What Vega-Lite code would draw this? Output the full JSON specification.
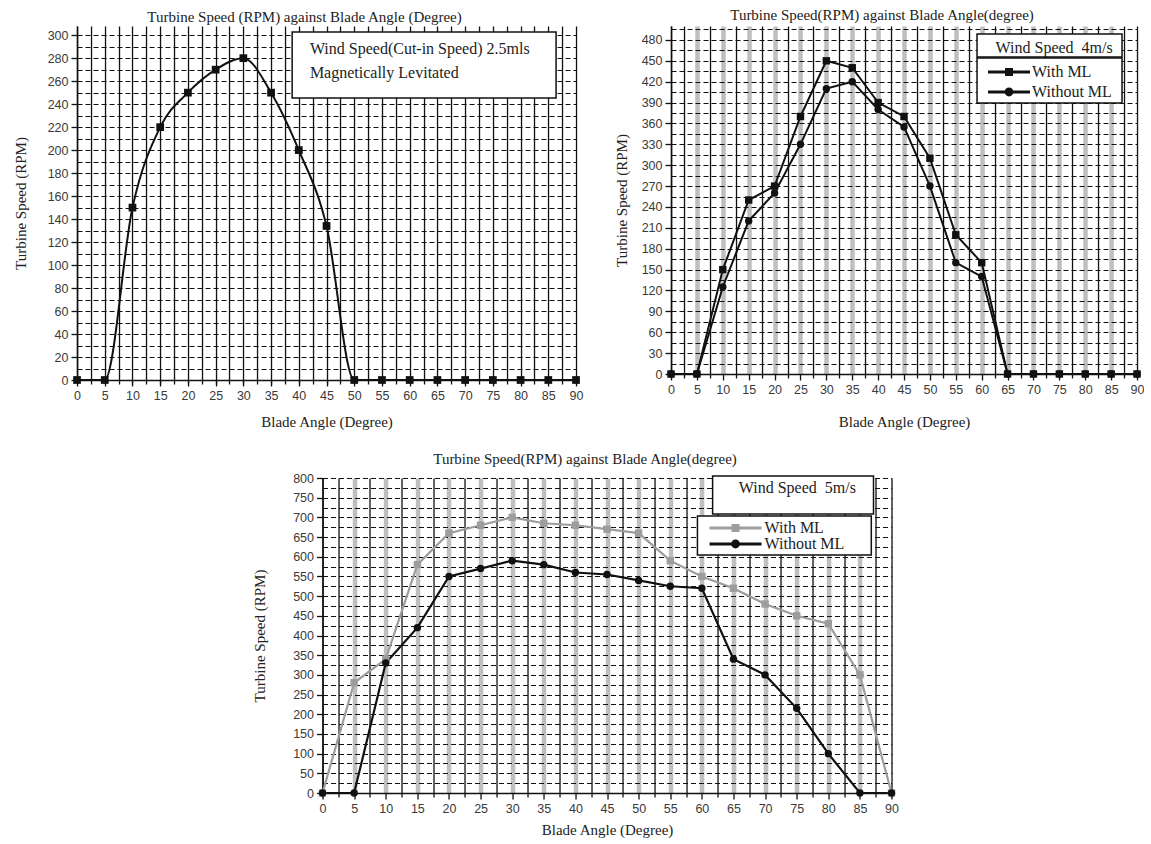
{
  "$schema": "https://vega.github.io/schema/vega-lite/v6.json",
  "padding": {"left": 13, "top": 7, "right": 0, "bottom": 0},
  "background": "white",
  "datasets": {
    "p1": [
      {"angle": 0, "rpm": 0}, {"angle": 5, "rpm": 0}, {"angle": 10, "rpm": 150}, {"angle": 15, "rpm": 220},
      {"angle": 20, "rpm": 250}, {"angle": 25, "rpm": 270}, {"angle": 30, "rpm": 280}, {"angle": 35, "rpm": 250},
      {"angle": 40, "rpm": 200}, {"angle": 45, "rpm": 134}, {"angle": 50, "rpm": 0}, {"angle": 55, "rpm": 0},
      {"angle": 60, "rpm": 0}, {"angle": 65, "rpm": 0}, {"angle": 70, "rpm": 0}, {"angle": 75, "rpm": 0},
      {"angle": 80, "rpm": 0}, {"angle": 85, "rpm": 0}, {"angle": 90, "rpm": 0}
    ],
    "p2": [
      {"series": "With ML", "angle": 0, "rpm": 0}, {"series": "With ML", "angle": 5, "rpm": 0},
      {"series": "With ML", "angle": 10, "rpm": 150}, {"series": "With ML", "angle": 15, "rpm": 250},
      {"series": "With ML", "angle": 20, "rpm": 270}, {"series": "With ML", "angle": 25, "rpm": 370},
      {"series": "With ML", "angle": 30, "rpm": 450}, {"series": "With ML", "angle": 35, "rpm": 440},
      {"series": "With ML", "angle": 40, "rpm": 390}, {"series": "With ML", "angle": 45, "rpm": 370},
      {"series": "With ML", "angle": 50, "rpm": 310}, {"series": "With ML", "angle": 55, "rpm": 200},
      {"series": "With ML", "angle": 60, "rpm": 160}, {"series": "With ML", "angle": 65, "rpm": 0},
      {"series": "With ML", "angle": 70, "rpm": 0}, {"series": "With ML", "angle": 75, "rpm": 0},
      {"series": "With ML", "angle": 80, "rpm": 0}, {"series": "With ML", "angle": 85, "rpm": 0},
      {"series": "With ML", "angle": 90, "rpm": 0},
      {"series": "Without ML", "angle": 0, "rpm": 0}, {"series": "Without ML", "angle": 5, "rpm": 0},
      {"series": "Without ML", "angle": 10, "rpm": 125}, {"series": "Without ML", "angle": 15, "rpm": 220},
      {"series": "Without ML", "angle": 20, "rpm": 260}, {"series": "Without ML", "angle": 25, "rpm": 330},
      {"series": "Without ML", "angle": 30, "rpm": 410}, {"series": "Without ML", "angle": 35, "rpm": 420},
      {"series": "Without ML", "angle": 40, "rpm": 380}, {"series": "Without ML", "angle": 45, "rpm": 355},
      {"series": "Without ML", "angle": 50, "rpm": 270}, {"series": "Without ML", "angle": 55, "rpm": 160},
      {"series": "Without ML", "angle": 60, "rpm": 140}, {"series": "Without ML", "angle": 65, "rpm": 0},
      {"series": "Without ML", "angle": 70, "rpm": 0}, {"series": "Without ML", "angle": 75, "rpm": 0},
      {"series": "Without ML", "angle": 80, "rpm": 0}, {"series": "Without ML", "angle": 85, "rpm": 0},
      {"series": "Without ML", "angle": 90, "rpm": 0}
    ],
    "p3": [
      {"series": "With ML", "angle": 0, "rpm": 0}, {"series": "With ML", "angle": 5, "rpm": 280},
      {"series": "With ML", "angle": 10, "rpm": 340}, {"series": "With ML", "angle": 15, "rpm": 580},
      {"series": "With ML", "angle": 20, "rpm": 660}, {"series": "With ML", "angle": 25, "rpm": 680},
      {"series": "With ML", "angle": 30, "rpm": 700}, {"series": "With ML", "angle": 35, "rpm": 685},
      {"series": "With ML", "angle": 40, "rpm": 680}, {"series": "With ML", "angle": 45, "rpm": 670},
      {"series": "With ML", "angle": 50, "rpm": 660}, {"series": "With ML", "angle": 55, "rpm": 590},
      {"series": "With ML", "angle": 60, "rpm": 550}, {"series": "With ML", "angle": 65, "rpm": 520},
      {"series": "With ML", "angle": 70, "rpm": 480}, {"series": "With ML", "angle": 75, "rpm": 450},
      {"series": "With ML", "angle": 80, "rpm": 430}, {"series": "With ML", "angle": 85, "rpm": 300},
      {"series": "With ML", "angle": 90, "rpm": 0},
      {"series": "Without ML", "angle": 0, "rpm": 0}, {"series": "Without ML", "angle": 5, "rpm": 0},
      {"series": "Without ML", "angle": 10, "rpm": 330}, {"series": "Without ML", "angle": 15, "rpm": 420},
      {"series": "Without ML", "angle": 20, "rpm": 550}, {"series": "Without ML", "angle": 25, "rpm": 570},
      {"series": "Without ML", "angle": 30, "rpm": 590}, {"series": "Without ML", "angle": 35, "rpm": 580},
      {"series": "Without ML", "angle": 40, "rpm": 560}, {"series": "Without ML", "angle": 45, "rpm": 555},
      {"series": "Without ML", "angle": 50, "rpm": 540}, {"series": "Without ML", "angle": 55, "rpm": 525},
      {"series": "Without ML", "angle": 60, "rpm": 520}, {"series": "Without ML", "angle": 65, "rpm": 340},
      {"series": "Without ML", "angle": 70, "rpm": 300}, {"series": "Without ML", "angle": 75, "rpm": 215},
      {"series": "Without ML", "angle": 80, "rpm": 100}, {"series": "Without ML", "angle": 85, "rpm": 0},
      {"series": "Without ML", "angle": 90, "rpm": 0}
    ]
  },
  "spacing": 21,
  "center": true,
  "resolve": {"scale": {"x": "independent", "y": "independent", "color": "independent", "shape": "independent", "fill": "independent"}},
  "vconcat": [
    {
      "spacing": 31,
      "resolve": {"scale": {"x": "independent", "y": "independent", "color": "independent", "shape": "independent", "fill": "independent"}},
      "hconcat": [
        {
          "width": 499,
          "height": 354,
          "title": {"text": "Turbine Speed (RPM) against Blade Angle (Degree)", "offset": 1, "dx": -22},
          "data": {"name": "p1"},
          "resolve": {"axis": {"x": "independent", "y": "independent"}},
          "layer": [
            {
              "mark": {"type": "line", "color": "#111", "strokeWidth": 2, "interpolate": "monotone"},
              "encoding": {
                "x": {"field": "angle", "type": "quantitative", "scale": {"domain": [0, 90], "nice": false, "zero": false},
                  "axis": {"orient": "bottom", "values": [0,2.5,5,7.5,10,12.5,15,17.5,20,22.5,25,27.5,30,32.5,35,37.5,40,42.5,45,47.5,50,52.5,55,57.5,60,62.5,65,67.5,70,72.5,75,77.5,80,82.5,85,87.5,90],
                    "grid": true, "gridColor": "#111", "gridWidth": 1.3, "labels": false, "ticks": true, "tickSize": 4, "domain": false, "title": null}},
                "y": {"field": "rpm", "type": "quantitative", "scale": {"domain": [0, 308], "nice": false},
                  "axis": {"orient": "left", "values": [10,20,30,40,50,60,70,80,90,100,110,120,130,140,150,160,170,180,190,200,210,220,230,240,250,260,270,280,290,300],
                    "grid": true, "gridColor": "#111", "gridDash": [5, 3], "gridWidth": 1.2, "labels": false, "ticks": false, "domain": false, "title": null}}
              }
            },
            {
              "mark": {"type": "point", "shape": "square", "filled": true, "size": 60, "color": "#111", "opacity": 1},
              "encoding": {
                "x": {"field": "angle", "type": "quantitative",
                  "axis": {"orient": "bottom", "values": [0,5,10,15,20,25,30,35,40,45,50,55,60,65,70,75,80,85,90], "title": "Blade Angle (Degree)", "titlePadding": 13, "labelFlush": false, "labelOverlap": false}},
                "y": {"field": "rpm", "type": "quantitative",
                  "axis": {"orient": "left", "values": [0,20,40,60,80,100,120,140,160,180,200,220,240,260,280,300], "title": "Turbine Speed (RPM)", "titlePadding": 19, "labelOverlap": false}}
              }
            },
            {
              "data": {"values": [{}]},
              "mark": {"type": "rect", "fill": "white", "stroke": "#111", "strokeWidth": 1.5},
              "encoding": {
                "x": {"datum": 38.8, "axis": null}, "x2": {"datum": 86.4},
                "y": {"datum": 302.8, "axis": null}, "y2": {"datum": 245.4}
              }
            },
            {
              "data": {"values": [{}]},
              "mark": {"type": "text", "text": "Wind Speed(Cut-in Speed) 2.5mls", "align": "left", "baseline": "middle", "font": "Liberation Serif", "fontSize": 16, "color": "#222"},
              "encoding": {"x": {"datum": 42, "axis": null}, "y": {"datum": 288, "axis": null}}
            },
            {
              "data": {"values": [{}]},
              "mark": {"type": "text", "text": "Magnetically Levitated", "align": "left", "baseline": "middle", "font": "Liberation Serif", "fontSize": 16, "color": "#222"},
              "encoding": {"x": {"datum": 42, "axis": null}, "y": {"datum": 267.1, "axis": null}}
            }
          ]
        },
        {
          "width": 466,
          "height": 348,
          "title": {"text": "Turbine Speed(RPM) against Blade Angle(degree)", "offset": 3.5, "dx": -22},
          "data": {"name": "p2"},
          "resolve": {"axis": {"x": "independent", "y": "independent"}, "scale": {"shape": "independent"}},
          "layer": [
            {
              "mark": {"type": "line", "strokeWidth": 2},
              "encoding": {
                "x": {"field": "angle", "type": "quantitative", "scale": {"domain": [0, 90], "nice": false, "zero": false},
                  "axis": {"orient": "bottom", "values": [5,10,15,20,25,30,35,40,45,50,55,60,65,70,75,80,85],
                    "grid": true, "gridColor": "#bfbfbf", "gridWidth": 4.5, "labels": false, "ticks": false, "domain": false, "title": null}},
                "y": {"field": "rpm", "type": "quantitative", "scale": {"domain": [0, 500], "nice": false},
                  "axis": {"orient": "left", "values": [15,30,45,60,75,90,105,120,135,150,165,180,195,210,225,240,255,270,285,300,315,330,345,360,375,390,405,420,435,450,465,480,495],
                    "grid": true, "gridColor": "#111", "gridDash": [5, 3], "gridWidth": 1.2, "labels": false, "ticks": false, "domain": false, "title": null}},
                "color": {"field": "series", "type": "nominal", "scale": {"domain": ["With ML", "Without ML"], "range": ["#111", "#111"]}, "legend": null}
              }
            },
            {
              "mark": {"type": "point", "filled": true, "size": 55, "opacity": 1},
              "encoding": {
                "x": {"field": "angle", "type": "quantitative",
                  "axis": {"orient": "bottom", "values": [0,2.5,7.5,12.5,17.5,22.5,27.5,32.5,37.5,42.5,47.5,52.5,57.5,62.5,67.5,72.5,77.5,82.5,87.5,90],
                    "grid": true, "gridColor": "#111", "gridWidth": 1.3, "labels": false, "ticks": true, "tickSize": 4, "domain": false, "title": null}},
                "y": {"field": "rpm", "type": "quantitative",
                  "axis": {"orient": "left", "values": [0,30,60,90,120,150,180,210,240,270,300,330,360,390,420,450,480], "title": "Turbine Speed (RPM)", "titlePadding": 12, "labelOverlap": false}},
                "color": {"field": "series", "type": "nominal", "legend": null},
                "shape": {"field": "series", "type": "nominal", "scale": {"domain": ["With ML", "Without ML"], "range": ["square", "circle"]}, "legend": null}
              }
            },
            {
              "data": {"values": [{}]},
              "mark": {"type": "rect", "fill": "white", "stroke": "#111", "strokeWidth": 1.5},
              "encoding": {
                "x": {"datum": 59.1, "axis": null}, "x2": {"datum": 87.1},
                "y": {"datum": 488.5, "axis": null}, "y2": {"datum": 455.5}
              }
            },
            {
              "data": {"values": [{}]},
              "mark": {"type": "rect", "fill": "white", "stroke": "#111", "strokeWidth": 1.5},
              "encoding": {
                "x": {"datum": 59.1, "axis": null}, "x2": {"datum": 87.1},
                "y": {"datum": 454, "axis": null}, "y2": {"datum": 389.4}
              }
            },
            {
              "data": {"values": [{}]},
              "mark": {"type": "text", "text": "Wind Speed \u00a04m/s", "align": "center", "baseline": "middle", "font": "Liberation Serif", "fontSize": 16, "color": "#222"},
              "encoding": {"x": {"datum": 74, "axis": null}, "y": {"datum": 469, "axis": null}}
            },
            {
              "transform": [{"filter": "false"}],
              "mark": {"type": "point", "filled": true, "size": 64, "opacity": 1, "color": "#111"},
              "encoding": {
                "x": {"field": "angle", "type": "quantitative",
                  "axis": {"orient": "bottom", "values": [0,5,10,15,20,25,30,35,40,45,50,55,60,65,70,75,80,85,90], "title": "Blade Angle (Degree)", "titlePadding": 19, "labelFlush": false, "labelOverlap": false}},
                "y": {"field": "rpm", "type": "quantitative", "axis": null},
                "shape": {"field": "series", "type": "nominal",
                  "scale": {"domain": ["With ML", "Without ML"], "range": ["M-5.25,-0.35H5.25V0.35H-5.25ZM-1,-1H1V1H-1Z", "M-5.25,-0.35H5.25V0.35H-5.25ZM-1.1,0A1.1,1.1,0,1,1,1.1,0A1.1,1.1,0,1,1,-1.1,0Z"]},
                  "legend": {"orient": "none", "legendX": 306, "legendY": 34, "title": null, "padding": 4, "labelFont": "Liberation Serif", "labelFontSize": 16, "labelColor": "#222", "symbolOffset": 20, "labelOffset": 15, "rowPadding": 4, "symbolSize": 64, "symbolStrokeWidth": 0}}
              }
            }
          ]
        }
      ]
    },
    {
      "width": 569,
      "height": 315,
      "title": {"text": "Turbine Speed(RPM) against Blade Angle(degree)", "offset": 5.5, "dx": -22},
      "data": {"name": "p3"},
      "resolve": {"axis": {"x": "independent", "y": "independent"}, "scale": {"shape": "independent"}},
      "layer": [
        {
          "mark": {"type": "line", "strokeWidth": 2.2},
          "encoding": {
            "x": {"field": "angle", "type": "quantitative", "scale": {"domain": [0, 90], "nice": false, "zero": false},
              "axis": {"orient": "bottom", "values": [5,10,15,20,25,30,35,40,45,50,55,60,65,70,75,80,85],
                "grid": true, "gridColor": "#bfbfbf", "gridWidth": 4.5, "labels": false, "ticks": false, "domain": false, "title": null}},
            "y": {"field": "rpm", "type": "quantitative", "scale": {"domain": [0, 800], "nice": false},
              "axis": {"orient": "left", "values": [25,50,75,100,125,150,175,200,225,250,275,300,325,350,375,400,425,450,475,500,525,550,575,600,625,650,675,700,725,750,775,800],
                "grid": true, "gridColor": "#111", "gridDash": [5, 3], "gridWidth": 1.2, "labels": false, "ticks": false, "domain": false, "title": null}},
            "color": {"field": "series", "type": "nominal", "scale": {"domain": ["With ML", "Without ML"], "range": ["#9d9d9d", "#111"]}, "legend": null}
          }
        },
        {
          "mark": {"type": "point", "filled": true, "size": 55, "opacity": 1},
          "encoding": {
            "x": {"field": "angle", "type": "quantitative",
              "axis": {"orient": "bottom", "values": [0,2.5,7.5,12.5,17.5,22.5,27.5,32.5,37.5,42.5,47.5,52.5,57.5,62.5,67.5,72.5,77.5,82.5,87.5,90],
                "grid": true, "gridColor": "#111", "gridWidth": 1.3, "labels": false, "ticks": true, "tickSize": 4, "domain": false, "title": null}},
            "y": {"field": "rpm", "type": "quantitative",
              "axis": {"orient": "left", "values": [0,50,100,150,200,250,300,350,400,450,500,550,600,650,700,750,800], "title": "Turbine Speed (RPM)", "titlePadding": 25, "labelOverlap": false}},
            "color": {"field": "series", "type": "nominal", "legend": null},
            "shape": {"field": "series", "type": "nominal", "scale": {"domain": ["With ML", "Without ML"], "range": ["square", "circle"]}, "legend": null}
          }
        },
        {
          "data": {"values": [{}]},
          "mark": {"type": "rect", "fill": "white", "stroke": "#111", "strokeWidth": 1.5},
          "encoding": {
            "x": {"datum": 61.7, "axis": null}, "x2": {"datum": 87.15},
            "y": {"datum": 805, "axis": null}, "y2": {"datum": 708.6}
          }
        },
        {
          "data": {"values": [{}]},
          "mark": {"type": "rect", "fill": "white", "stroke": "#111", "strokeWidth": 1.5},
          "encoding": {
            "x": {"datum": 59.3, "axis": null}, "x2": {"datum": 86.8},
            "y": {"datum": 703.5, "axis": null}, "y2": {"datum": 604.4}
          }
        },
        {
          "data": {"values": [{}]},
          "mark": {"type": "text", "text": "Wind Speed \u00a05m/s", "align": "center", "baseline": "middle", "font": "Liberation Serif", "fontSize": 16, "color": "#222"},
          "encoding": {"x": {"datum": 75.1, "axis": null}, "y": {"datum": 774.6, "axis": null}}
        },
        {
          "transform": [{"filter": "false"}],
          "mark": {"type": "point", "filled": true, "size": 64, "opacity": 1, "color": "#9d9d9d"},
          "encoding": {
            "x": {"field": "angle", "type": "quantitative",
              "axis": {"orient": "bottom", "values": [0,5,10,15,20,25,30,35,40,45,50,55,60,65,70,75,80,85,90], "title": "Blade Angle (Degree)", "titlePadding": 8, "labelFlush": false, "labelOverlap": false}},
            "y": {"field": "rpm", "type": "quantitative", "axis": null},
            "shape": {"field": "series", "type": "nominal",
              "scale": {"domain": ["With ML"], "range": ["M-6.5,-0.35H6.5V0.35H-6.5ZM-1,-1H1V1H-1Z"]},
              "legend": {"orient": "none", "legendX": 375, "legendY": 38, "title": null, "padding": 4, "labelFont": "Liberation Serif", "labelFontSize": 16, "labelColor": "#222", "symbolOffset": 26, "labelOffset": 21, "symbolSize": 64, "symbolStrokeWidth": 0}}
          }
        },
        {
          "transform": [{"filter": "false"}],
          "mark": {"type": "point", "filled": true, "size": 64, "opacity": 1, "color": "#111"},
          "encoding": {
            "x": {"field": "angle", "type": "quantitative", "axis": null},
            "y": {"field": "rpm", "type": "quantitative", "axis": null},
            "shape": {"field": "series", "type": "nominal",
              "scale": {"domain": ["Without ML"], "range": ["M-6.5,-0.35H6.5V0.35H-6.5ZM-1.1,0A1.1,1.1,0,1,1,1.1,0A1.1,1.1,0,1,1,-1.1,0Z"]},
              "legend": {"orient": "none", "legendX": 375, "legendY": 54, "title": null, "padding": 4, "labelFont": "Liberation Serif", "labelFontSize": 16, "labelColor": "#222", "symbolOffset": 26, "labelOffset": 21, "symbolSize": 64, "symbolStrokeWidth": 0}}
          }
        }
      ]
    }
  ],
  "config": {
    "view": {"stroke": null},
    "axis": {"grid": false, "labelFont": "Liberation Sans", "labelFontSize": 12.5, "labelColor": "#3a3a3a", "titleFont": "Liberation Serif", "titleFontSize": 15, "titleFontWeight": "normal", "titleColor": "#222", "domainColor": "#111", "domainWidth": 1.5, "tickColor": "#111", "tickWidth": 1.3, "tickSize": 6, "labelPadding": 3},
    "title": {"font": "Liberation Serif", "fontSize": 15, "fontWeight": "normal", "color": "#222"}
  }
}
